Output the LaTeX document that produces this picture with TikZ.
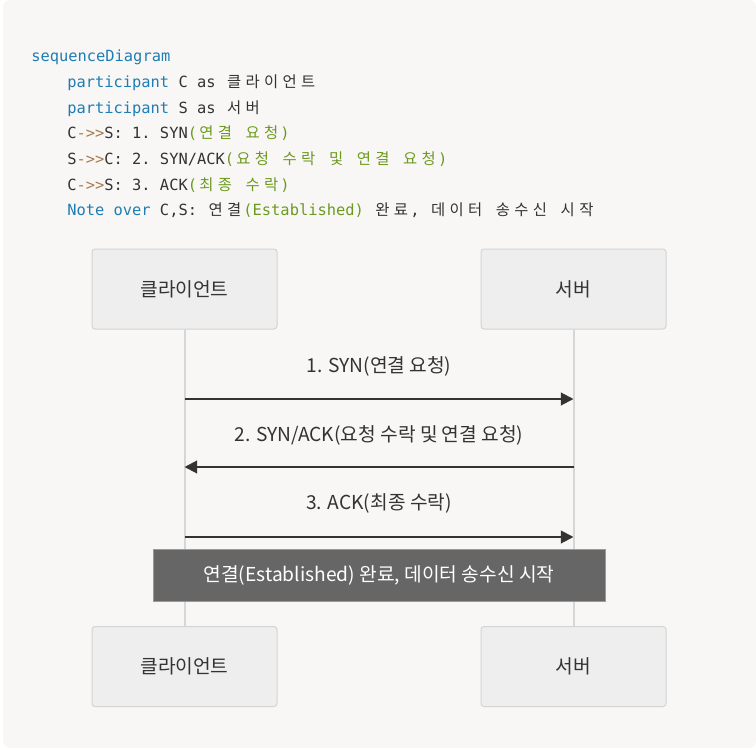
\documentclass[tikz,border=0pt]{standalone}
\usepackage{fontspec}
\setmainfont{Noto Sans CJK KR}
\setmonofont{DejaVu Sans Mono}
\newfontfamily\hangulfont{Noto Sans CJK KR}
\usetikzlibrary{arrows.meta,positioning}

\definecolor{bgfill}{HTML}{F8F7F6}
\definecolor{boxfill}{HTML}{EEEEEE}
\definecolor{boxline}{HTML}{D4D4D4}
\definecolor{lifegray}{HTML}{D6D6D6}
\definecolor{txt}{HTML}{333333}
\definecolor{notefill}{HTML}{666666}
\definecolor{noteline}{HTML}{9A9A9A}
\definecolor{kw}{HTML}{1F7DB3}
\definecolor{op}{HTML}{A87B4E}
\definecolor{str}{HTML}{6C9A1F}

% hangul in the code block takes two mono columns per letter
\newcommand\hg[1]{\hgloop#1\relax}
\def\hgloop#1{\ifx\relax#1\else\makebox[13.9pt]{\hangulfont#1}\expandafter\hgloop\fi}
\newcommand\codefont{\fontsize{11.55}{14}\selectfont\ttfamily}

\begin{document}
\begin{tikzpicture}[
    x=0.75pt, y=-0.75pt,
    font=\fontsize{14.4}{17}\selectfont,
    actor/.style={
      rectangle, rounded corners=2.25pt,
      draw=boxline, fill=boxfill, line width=0.75pt,
      minimum width=138.75pt, minimum height=60pt,
      text=txt
    },
    lifeline/.style={draw=lifegray, line width=1.5pt},
    msg/.style={-{Triangle[length=9.5pt,width=9.5pt]}, draw=txt, line width=1.5pt},
    msglabel/.style={text=txt},
    note/.style={
      rectangle, fill=notefill, draw=noteline, line width=0.75pt,
      minimum width=339pt, minimum height=39pt, text=white
    },
    code/.style={anchor=base west, inner sep=0pt, font=\codefont, text=txt},
  ]

  \useasboundingbox (0,0) rectangle (756,749);
  \fill[bgfill, rounded corners=5pt] (3,0) rectangle (756,748);

  %% -- code block ----------------------------------------------
  \node[code] (code1) at (31,62)    {\textcolor{kw}{sequenceDiagram}};
  \node[code] (code2) at (67,87.6)  {\textcolor{kw}{participant} C as \hg{클라이언트}};
  \node[code] (code3) at (67,113.2) {\textcolor{kw}{participant} S as \hg{서버}};
  \node[code] (code4) at (67,138.8) {C\textcolor{op}{->>}S: 1. SYN\textcolor{str}{(\hg{연결} \hg{요청})}};
  \node[code] (code5) at (67,164.4) {S\textcolor{op}{->>}C: 2. SYN/ACK\textcolor{str}{(\hg{요청} \hg{수락} \hg{및} \hg{연결} \hg{요청})}};
  \node[code] (code6) at (67,190)   {C\textcolor{op}{->>}S: 3. ACK\textcolor{str}{(\hg{최종} \hg{수락})}};
  \node[code] (code7) at (67,215.6) {\textcolor{kw}{Note over} C,S: \hg{연결}\textcolor{str}{(Established)} \hg{완료}, \hg{데이터} \hg{송수신} \hg{시작}};

  %% -- participants --------------------------------------------
  \node[actor] (ctop) at (184.5,289)   {클라이언트};
  \node[actor] (stop) at (573.5,289)   {서버};
  \node[actor] (cbot) at (184.5,666.5) {클라이언트};
  \node[actor] (sbot) at (573.5,666.5) {서버};

  \draw[lifeline] (ctop) -- (cbot);
  \draw[lifeline] (stop) -- (sbot);

  %% -- messages ------------------------------------------------
  \coordinate (c1) at (ctop |- 0,399);
  \coordinate (s1) at (stop |- 0,399);
  \coordinate (c2) at (ctop |- 0,467);
  \coordinate (s2) at (stop |- 0,467);
  \coordinate (c3) at (ctop |- 0,537);
  \coordinate (s3) at (stop |- 0,537);

  \draw[msg] (c1) -- (s1);
  \draw[msg] (s2) -- (c2);
  \draw[msg] (c3) -- (s3);

  \node[msglabel] (lab1) at (379,366) {1. SYN(연결 요청)};
  \node[msglabel] (lab2) at (379,435) {2. SYN/ACK(요청 수락 및 연결 요청)};
  \node[msglabel] (lab3) at (379,503) {3. ACK(최종 수락)};

  %% -- note ----------------------------------------------------
  \node[note] (est) at (379,575) {연결(Established) 완료, 데이터 송수신 시작};

\end{tikzpicture}
\end{document}
